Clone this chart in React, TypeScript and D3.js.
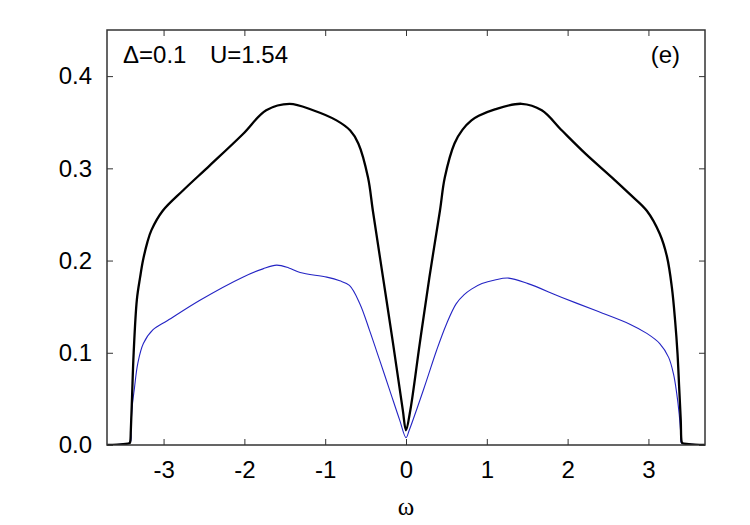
import React, { useEffect, useRef } from 'react';
import * as d3 from 'd3';

// spectral function, total (black) and component (blue)
const totalOmega = [-3.7, -3.5, -3.42, -3.412, -3.405, -3.39, -3.37, -3.33, -3.29, -3.255, -3.2, -3.15, -3.01, -2.76, -2.43, -2.02, -1.73, -1.44, -1.15, -0.86, -0.69, -0.59, -0.47, -0.41, -0.285, -0.16, -0.04, 0, 0.054, 0.17, 0.29, 0.42, 0.48, 0.6, 0.7, 0.81, 0.9, 1.1, 1.43, 1.68, 1.93, 2.22, 2.55, 2.77, 2.98, 3.14, 3.23, 3.29, 3.33, 3.36, 3.38, 3.4, 3.41, 3.42, 3.5, 3.7];
const totalDos = [0, 0.001, 0.002, 0.004, 0.016, 0.052, 0.1, 0.158, 0.182, 0.2, 0.22, 0.233, 0.254, 0.276, 0.303, 0.337, 0.363, 0.37, 0.363, 0.352, 0.341, 0.327, 0.29, 0.254, 0.182, 0.11, 0.038, 0.016, 0.038, 0.11, 0.182, 0.254, 0.29, 0.327, 0.342, 0.352, 0.357, 0.364, 0.37, 0.363, 0.341, 0.316, 0.29, 0.272, 0.254, 0.229, 0.204, 0.171, 0.135, 0.099, 0.063, 0.027, 0.004, 0.002, 0.001, 0];

const partOmega = [-3.7, -3.5, -3.412, -3.405, -3.39, -3.36, -3.32, -3.25, -3.13, -2.95, -2.55, -2.02, -1.77, -1.6, -1.45, -1.31, -0.98, -0.82, -0.7, -0.57, -0.45, -0.326, -0.2, -0.078, 0, 0.04, 0.13, 0.255, 0.38, 0.5, 0.62, 0.72, 0.81, 0.94, 1.1, 1.27, 1.51, 1.93, 2.34, 2.77, 2.98, 3.14, 3.25, 3.31, 3.35, 3.38, 3.4, 3.41, 3.5, 3.7];
const partDos = [0, 0.001, 0.003, 0.016, 0.04, 0.062, 0.088, 0.11, 0.125, 0.135, 0.157, 0.182, 0.191, 0.195, 0.192, 0.187, 0.182, 0.178, 0.173, 0.153, 0.124, 0.092, 0.059, 0.027, 0.008, 0.016, 0.038, 0.07, 0.103, 0.131, 0.153, 0.163, 0.169, 0.175, 0.179, 0.181, 0.175, 0.16, 0.146, 0.131, 0.121, 0.11, 0.095, 0.077, 0.056, 0.034, 0.013, 0.002, 0.001, 0];

const xTicks = [-3, -2, -1, 0, 1, 2, 3];
const yTicks = [0, 0.1, 0.2, 0.3, 0.4];

const W = 750;
const H = 525;
const M = { left: 107, right: 45, top: 30, bottom: 80 };

const App = () => {
  const svgRef = useRef<SVGSVGElement>(null);

  useEffect(() => {
    const svg = d3.select(svgRef.current);
    svg.selectAll('*').remove();

    const iw = W - M.left - M.right;
    const ih = H - M.top - M.bottom;

    const x = d3.scaleLinear().domain([-3.7, 3.7]).range([0, iw]);
    const y = d3.scaleLinear().domain([0, 0.45]).range([ih, 0]);

    const g = svg.append('g').attr('transform', `translate(${M.left},${M.top})`);

    g.append('clipPath').attr('id', 'plot-clip')
      .append('rect').attr('width', iw).attr('height', ih);

    const line = d3.line<[number, number]>()
      .x(d => x(d[0]))
      .y(d => y(d[1]))
      .curve(d3.curveCatmullRom.alpha(0.5));

    const partData = partOmega.map((w, i) => [w, partDos[i]] as [number, number]);
    const totalData = totalOmega.map((w, i) => [w, totalDos[i]] as [number, number]);

    g.append('path')
      .datum(partData)
      .attr('clip-path', 'url(#plot-clip)')
      .attr('fill', 'none')
      .attr('stroke', '#2424c4')
      .attr('stroke-width', 1.1)
      .attr('d', line);

    g.append('path')
      .datum(totalData)
      .attr('clip-path', 'url(#plot-clip)')
      .attr('fill', 'none')
      .attr('stroke', '#000')
      .attr('stroke-width', 2.3)
      .attr('d', line);

    const font = '"Liberation Sans", Arial, sans-serif';

    // axes: ticks point inwards, labels only on bottom and left
    const styleAxis = (sel: any) => {
      sel.select('.domain').remove();
      sel.selectAll('line').attr('stroke', '#333').attr('stroke-width', 1);
      sel.selectAll('text')
        .attr('font-family', font)
        .attr('font-size', 24)
        .attr('fill', '#000');
    };

    g.append('g')
      .attr('transform', `translate(0,${ih})`)
      .call(d3.axisBottom(x).tickValues(xTicks).tickFormat(d => String(d)).tickSizeInner(-6).tickPadding(16))
      .call(styleAxis);

    g.append('g')
      .call(d3.axisLeft(y).tickValues(yTicks).tickFormat(d => (+d).toFixed(1)).tickSizeInner(-6).tickPadding(15))
      .call(styleAxis);

    g.append('g')
      .call(d3.axisTop(x).tickValues(xTicks).tickFormat(() => '').tickSizeInner(-6))
      .call(styleAxis);

    g.append('g')
      .attr('transform', `translate(${iw},0)`)
      .call(d3.axisRight(y).tickValues(yTicks).tickFormat(() => '').tickSizeInner(-6))
      .call(styleAxis);

    // frame
    g.append('rect')
      .attr('width', iw)
      .attr('height', ih)
      .attr('fill', 'none')
      .attr('stroke', '#333')
      .attr('stroke-width', 1.5);

    g.append('text')
      .attr('x', 16)
      .attr('y', 33)
      .attr('font-family', font)
      .attr('font-size', 24)
      .text('Δ=0.1');

    g.append('text')
      .attr('x', 103)
      .attr('y', 33)
      .attr('font-family', font)
      .attr('font-size', 24)
      .text('U=1.54');

    g.append('text')
      .attr('x', iw - 25)
      .attr('y', 33)
      .attr('text-anchor', 'end')
      .attr('font-family', font)
      .attr('font-size', 24)
      .text('(e)');

    svg.append('text')
      .attr('x', M.left + x(0))
      .attr('y', 515)
      .attr('text-anchor', 'middle')
      .attr('font-family', '"Liberation Serif", "Times New Roman", serif')
      .attr('font-size', 25)
      .text('ω');
  }, []);

  return (
    <svg
      ref={svgRef}
      width={W}
      height={H}
      style={{ position: 'absolute', left: 0, top: 0, background: '#fff' }}
    />
  );
};

export default App;
